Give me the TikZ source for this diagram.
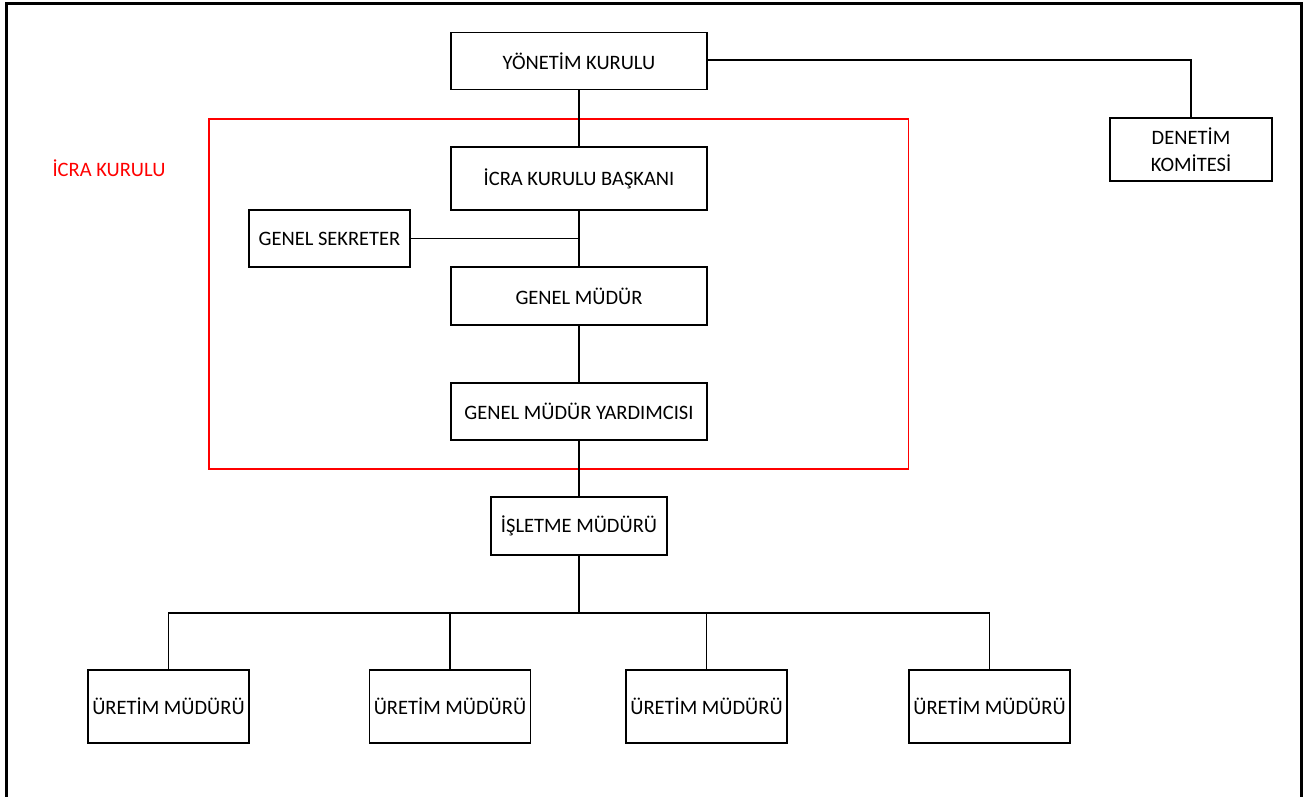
\documentclass[tikz,border=0pt]{standalone}
\usepackage{fontspec}
\setmainfont{Carlito}
\usepackage{tikz}
\usetikzlibrary{positioning}

\tikzset{
  box/.style={draw, line width=1.7pt, inner sep=0pt, align=center},
  conn/.style={line width=1.3pt}
}

\begin{document}
\begin{tikzpicture}[x=1pt, y=-1pt, font=\fontsize{20.5}{27}\selectfont]
  \useasboundingbox (0,0) rectangle (1306,796);
  \draw[line width=3pt] (6,3) rectangle (1301.5,810);
  \draw[red, line width=1.6pt] (209,119) rectangle (908.5,469);
  \node[red] (ik) at (109,168) {İCRA KURULU};

  \node[box, minimum width=256pt, minimum height=57pt] (yk) at (579,61) {YÖNETİM KURULU};
  \node[box, minimum width=162pt, minimum height=63pt] (dk) at (1191,149.5) {DENETİM\\KOMİTESİ};
  \node[box, minimum width=256pt, minimum height=63pt] (ikb) at (579,178.5) {İCRA KURULU BAŞKANI};
  \node[box, minimum width=161pt, minimum height=57pt] (gs) at (329.5,238.5) {GENEL SEKRETER};
  \node[box, minimum width=256pt, minimum height=58pt] (gm) at (579,296) {GENEL MÜDÜR};
  \node[box, minimum width=256pt, minimum height=57pt] (gmy) at (579,411.5) {GENEL MÜDÜR YARDIMCISI};
  \node[box, minimum width=176pt, minimum height=58pt] (im) at (579,526) {İŞLETME MÜDÜRÜ};
  \foreach \x [count=\i] in {168.5,450,706.5,989.5}
    \node[box, minimum width=161pt, minimum height=73pt] (u\i) at (\x,706.5) {ÜRETİM MÜDÜRÜ};

  \coordinate (gsj) at (579,238.5);
  \coordinate (bus) at (579,613);
  \path[conn]
  (yk) edge (ikb)
  (ikb) edge (gm)
  (gs) edge (gsj)
  (gm) edge (gmy)
  (gmy) edge (im)
  (im) edge (bus)
;
  \draw[conn] ([yshift=1pt]yk.east) -| (dk.north);
  \foreach \i in {1,...,4}
    \draw[conn] (bus) -| (u\i.north);
\end{tikzpicture}
\end{document}
